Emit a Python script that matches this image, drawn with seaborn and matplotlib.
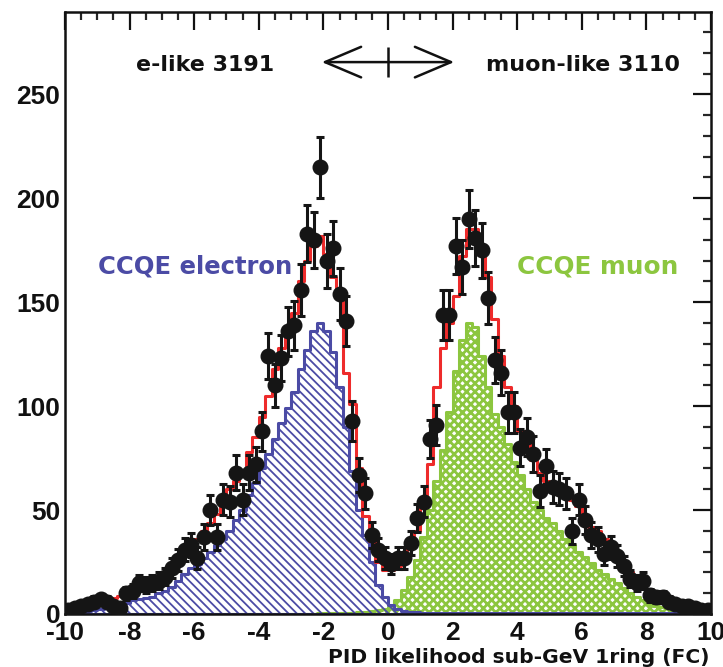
import numpy as np
import pandas as pd
import matplotlib
matplotlib.use("Agg")
import matplotlib.pyplot as plt
import seaborn as sns

# ---------------- data (100 bins of width 0.2 from -10 to 10) ----------------
x_range = (-10, 10)
n_bins = 100
bin_edges = np.linspace(x_range[0], x_range[1], n_bins + 1)
bin_centers = 0.5 * (bin_edges[:-1] + bin_edges[1:])

data_counts = [
    2, 3, 4, 5, 6, 7, 6, 4, 3, 10,
    11, 15, 14, 15, 16, 18, 22, 26, 31, 33,
    27, 37, 50, 37, 55, 54, 68, 55, 68, 72,
    88, 124, 110, 123, 136, 139, 156, 183, 180, 215,
    170, 176, 154, 141, 93, 67, 58, 38, 31, 27,
    24, 27, 27, 34, 46, 54, 84, 91, 144, 144,
    177, 167, 190, 181, 175, 152, 122, 116, 97, 97,
    80, 85, 77, 59, 71, 61, 60, 58, 40, 55,
    45, 38, 36, 29, 32, 28, 23, 17, 15, 16,
    9, 8, 8, 6, 5, 4, 4, 3, 2, 2,
]

mc_total = [
    2, 2.5, 3, 4, 5, 5.5, 6.5, 7.5, 8.5, 10,
    11.5, 13, 14.5, 16, 18, 20, 23, 26, 29, 32,
    36, 40, 44, 48, 55, 60, 64, 69, 78, 85,
    95, 105, 118, 128, 137, 145, 160, 170, 177, 182,
    173, 162, 152, 116, 101, 70, 47, 35, 25, 21,
    21, 23, 27, 33, 40, 56, 72, 109, 128, 140,
    153, 172, 185, 185, 175, 162, 142, 124, 109, 100,
    88, 84, 74, 68, 64, 62, 60, 58, 55, 52,
    47, 42, 40, 36, 32, 28, 24, 20, 17, 14,
    11, 9, 7, 6, 5, 4, 3.5, 3, 2.5, 2,
]

ccqe_electron = [
    0.5, 0.8, 1, 1.5, 2, 2.5, 3, 4, 5, 5.5,
    6.5, 7, 7.5, 8, 10, 11, 13, 16, 19, 22,
    24, 27, 30, 33, 36, 40, 45, 50, 57, 63,
    70, 77, 84, 92, 99, 107, 118, 127, 136, 140,
    136, 126, 109, 90, 69, 50, 38, 25, 14, 8,
    4.5, 2.5, 1.5, 1, 0.8, 0.6, 0.5, 0.4, 0.4, 0.3,
    0.3, 0.3, 0.3, 0.3, 0.3, 0.3, 0.3, 0.3, 0.3, 0.3,
    0.3, 0.3, 0.3, 0.3, 0.3, 0.3, 0.3, 0.3, 0.3, 0.3,
    0.3, 0.3, 0.3, 0.3, 0.3, 0.3, 0.3, 0.3, 0.3, 0.3,
    0.3, 0.3, 0.3, 0.3, 0.3, 0.3, 0.3, 0.3, 0.3, 0.3,
]

ccqe_muon = [
    0.1, 0.1, 0.1, 0.1, 0.1, 0.1, 0.1, 0.1, 0.1, 0.1,
    0.1, 0.1, 0.1, 0.1, 0.1, 0.1, 0.1, 0.1, 0.1, 0.1,
    0.1, 0.1, 0.1, 0.1, 0.1, 0.1, 0.1, 0.1, 0.1, 0.1,
    0.1, 0.1, 0.1, 0.1, 0.1, 0.1, 0.1, 0.15, 0.2, 0.3,
    0.35, 0.4, 0.45, 0.5, 0.6, 0.8, 1, 1.3, 1.7, 2.3,
    3.5, 6.7, 11.5, 18, 26, 37, 50, 64, 79, 97,
    117, 132, 140, 138, 124, 109, 96, 90, 82, 73,
    67, 60, 54, 50, 46, 44, 40, 36, 33, 30,
    27.5, 24.5, 21, 19, 17, 15, 12.5, 10, 8, 6.7,
    5, 4, 3.5, 3, 2.5, 2, 1.5, 1.2, 1, 0.8,
]

e_like_label = "e-like 3191"
mu_like_label = "muon-like 3110"
xlabel_text = "PID likelihood sub-GeV 1ring (FC)"

df = pd.DataFrame({
    "pid": bin_centers,
    "data": np.asarray(data_counts, dtype=float),
    "mc": np.asarray(mc_total, dtype=float),
    "ccqe_e": np.asarray(ccqe_electron, dtype=float),
    "ccqe_mu": np.asarray(ccqe_muon, dtype=float),
})

# ---------------- style ----------------
BLUE = "#4B4BA5"
GREEN = "#8CC63F"
RED = "#EE2B2B"
INK = "#111111"
TICK_FONT = ['Liberation Sans', 'DejaVu Sans']
TEXT_FONT = ['DejaVu Sans']

sns.set_theme(style="white")
plt.rcParams['font.family'] = TEXT_FONT
plt.rcParams['font.weight'] = 'bold'
plt.rcParams['axes.unicode_minus'] = False

fig = plt.figure(figsize=(7.23, 6.67), dpi=100)
ax = fig.add_axes([0.0899, 0.0795, 0.8935, 0.9025])


def hatch_last(ax, color, hatch, hlw, lw):
    poly = ax.collections[-1]
    poly.set_alpha(None)
    poly.set_facecolor("none")
    poly.set_edgecolor(color)
    poly.set_hatch(hatch)
    poly.set_linewidth(lw)
    if hasattr(poly, "set_hatch_linewidth"):
        poly.set_hatch_linewidth(hlw)


# CCQE muon (green cross hatch)
plt.rcParams['hatch.linewidth'] = 2.0
sns.histplot(data=df, x="pid", weights="ccqe_mu", bins=n_bins, binrange=x_range,
             element="step", fill=True, color=GREEN, linewidth=2.2, ax=ax)
hatch_last(ax, GREEN, "xxxx", 2.0, 2.2)

# CCQE electron (blue diagonal hatch)
plt.rcParams['hatch.linewidth'] = 1.3
sns.histplot(data=df, x="pid", weights="ccqe_e", bins=n_bins, binrange=x_range,
             element="step", fill=True, color=BLUE, linewidth=2.2, ax=ax)
hatch_last(ax, BLUE, "\\\\\\\\", 1.3, 2.2)

# Total MC (red step)
sns.histplot(data=df, x="pid", weights="mc", bins=n_bins, binrange=x_range,
             element="step", fill=False, color=RED, linewidth=2.2, ax=ax)

# Data points
ax.errorbar(df["pid"], df["data"], yerr=np.sqrt(df["data"]), fmt="o", color="#151515",
            ms=10.5, capsize=2.8, elinewidth=2.2, capthick=2.2, zorder=5)

# ---------------- axes ----------------
ax.set_xlim(*x_range)
ax.set_ylim(0, 289.6)
ax.set_ylabel("")
ax.set_xticks(np.arange(-10, 10.1, 2))
ax.set_xticks(np.arange(-10, 10.01, 0.5), minor=True)
ax.set_yticks(np.arange(0, 251, 50))
ax.set_yticks(np.arange(0, 290, 10), minor=True)
ax.tick_params(axis="both", which="major", direction="in", length=13, width=1.6,
               top=True, right=True, labelsize=19, colors=INK)
ax.tick_params(axis="both", which="minor", direction="in", length=6, width=1.6,
               top=True, right=True)
ax.tick_params(axis="x", which="major", pad=5)
ax.tick_params(axis="y", which="major", pad=3.5)
for lab in ax.get_xticklabels() + ax.get_yticklabels():
    lab.set_fontweight("bold")
    lab.set_fontfamily(TICK_FONT)
for sp in ax.spines.values():
    sp.set_linewidth(1.8)
    sp.set_color(INK)

ax.set_xlabel(xlabel_text, fontsize=14.6, fontweight="bold", color=INK,
              ha="right", va="center")
ax.xaxis.set_label_coords(0.998, -0.0725)

# ---------------- annotations ----------------
ax.text(-5.67, 264, e_like_label, ha="center", va="center", fontsize=15.9,
        fontweight="bold", color=INK)
ax.text(6.04, 264, mu_like_label, ha="center", va="center", fontsize=16,
        fontweight="bold", color=INK)
ax.annotate("", xy=(-2.05, 265.5), xytext=(2.05, 265.5),
            arrowprops=dict(arrowstyle="<->,head_length=2.6,head_width=1.1",
                            lw=1.8, color=INK, shrinkA=0, shrinkB=0,
                            mutation_scale=10))
ax.vlines(0, 258.3, 272.7, color=INK, lw=1.8)

ax.text(-5.98, 167, "CCQE electron", ha="center", va="center", fontsize=17.5,
        fontweight="bold", color=BLUE)
ax.text(6.5, 167, "CCQE muon", ha="center", va="center", fontsize=17.8,
        fontweight="bold", color=GREEN)

fig.savefig("out.png", dpi=100)
